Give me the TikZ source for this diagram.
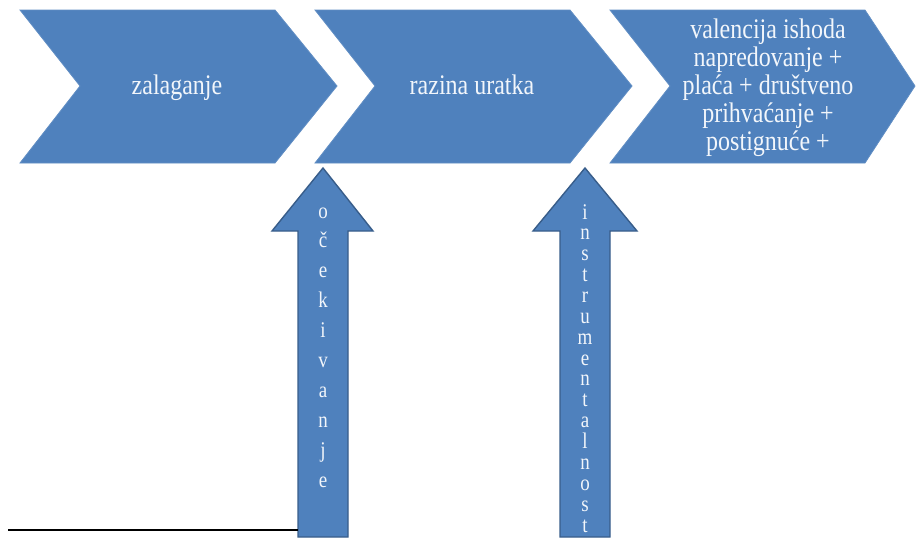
\documentclass[tikz,border=0pt]{standalone}
\usepackage{fontspec}
\usepackage{graphicx}
\setmainfont{Liberation Serif}
\definecolor{blfill}{HTML}{4F81BD}
\definecolor{bledge}{HTML}{385D8A}
\definecolor{txt}{HTML}{F2F6FB}
\newcommand{\tallt}[1]{\scalebox{1}[1.18]{#1}}
\begin{document}
\begin{tikzpicture}[x=1pt,y=-1pt,
  chev/.style={fill=blfill,draw=blfill!90!white,line width=0.8pt},
  uparrow/.style={fill=blfill,draw=bledge,line width=1.4pt,line join=miter},
  chevtext/.style={text=txt,font=\fontsize{24}{28}\selectfont,align=center,inner sep=0pt},
  letter/.style={text=txt,font=\fontsize{19}{20}\selectfont,anchor=base,inner sep=0pt},
  baseline line/.style={draw=black,line width=1.6pt}]
\useasboundingbox (0,0) rectangle (916,538);
% chevrons
\draw[chev] (20,10) -- (275,10) -- (337,86) -- (275,163) -- (20,163) -- (80,86) -- cycle;
\draw[chev] (315,10) -- (570,10) -- (632,86) -- (570,163) -- (315,163) -- (375,86) -- cycle;
\draw[chev] (610,10) -- (865,10) -- (915,86) -- (865,163) -- (610,163) -- (670,86) -- cycle;
\node[chevtext,anchor=base] (z) at (177,94) {\tallt{zalaganje}};
\node[chevtext,anchor=base] (r) at (472,94) {\tallt{razina uratka}};
\node[chevtext,anchor=base] (v) at (768,38) {\tallt{valencija ishoda}};
\node[chevtext,anchor=base] (v2) at (768,66) {\tallt{napredovanje +}};
\node[chevtext,anchor=base] (v3) at (768,94) {\tallt{plaća + društveno}};
\node[chevtext,anchor=base] (v4) at (768,122) {\tallt{prihvaćanje +}};
\node[chevtext,anchor=base] (v5) at (768,150) {\tallt{postignuće +}};
% upward arrows
\draw[uparrow] (323,168) -- (373,231) -- (348,231) -- (348,537) -- (298,537) -- (298,231) -- (272,231) -- cycle;
\draw[uparrow] (585,168) -- (637,231) -- (610,231) -- (610,537) -- (560,537) -- (560,231) -- (533,231) -- cycle;
\foreach \l [count=\i from 0] in {o,č,e,k,i,v,a,n,j,e}
  \node[letter] (oc\i) at (323,{218+29.9*\i}) {\tallt{\l}};
\foreach \l [count=\i from 0] in {i,n,s,t,r,u,m,e,n,t,a,l,n,o,s,t}
  \node[letter] (in\i) at (585,{219+20.87*\i}) {\tallt{\l}};
% black line
\coordinate (ls) at (8,530);
\coordinate (le) at (298,530);
\draw[baseline line] (ls) -- (le);
\end{tikzpicture}
\end{document}
